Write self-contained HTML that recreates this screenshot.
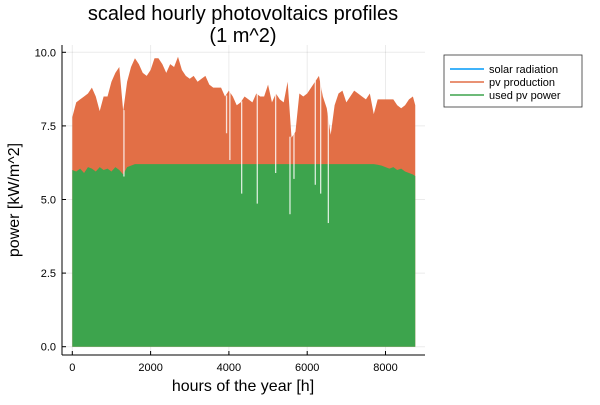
<!DOCTYPE html>
<html><head><meta charset="utf-8"><style>
body{margin:0;background:#fff;font-family:"Liberation Sans","DejaVu Sans",sans-serif}
svg text{font-family:"Liberation Sans","DejaVu Sans",sans-serif}
</style></head><body>
<svg id="chart" width="600" height="400">
<text x="243" y="20" font-size="20" text-anchor="middle">scaled hourly photovoltaics profiles</text>
<text x="243" y="42" font-size="20" text-anchor="middle">(1 m^2)</text>
<g id="grid"></g>
<g id="marks"></g>
<g id="axes"></g>
<text x="243" y="391" font-size="16" text-anchor="middle">hours of the year [h]</text>
<text transform="translate(19,200) rotate(-90)" font-size="16" text-anchor="middle">power [kW/m^2]</text>
<g>
<rect x="444" y="55" width="138" height="52" fill="#fff" stroke="#333" stroke-width="0.8"/>
<g><line x1="450" y1="69" x2="484" y2="69" stroke="#009af9" stroke-width="1.5"/><text x="489" y="73" font-size="11">solar radiation</text></g>
<g><line x1="450" y1="82" x2="484" y2="82" stroke="#e26f46" stroke-width="1.5"/><text x="489" y="86" font-size="11">pv production</text></g>
<g><line x1="450" y1="95" x2="484" y2="95" stroke="#3da44d" stroke-width="1.5"/><text x="489" y="99" font-size="11">used pv power</text></g>
</g>
</svg>
<script>
// pv production envelope, one value per 100 hours (last = hour 8760)
const pvTop = [7.8,8.3,8.4,8.5,8.6,8.8,8.5,8.0,8.5,8.5,9.0,9.3,9.5,8.0,9.0,9.5,9.8,9.6,9.3,9.2,
9.4,9.8,9.8,9.6,9.3,9.6,9.5,9.85,9.4,9.2,9.1,9.2,9.0,9.1,9.2,8.9,8.8,8.8,8.8,8.5,
8.7,8.5,8.2,8.3,8.5,8.4,8.3,8.6,8.5,8.5,8.9,8.3,8.6,8.4,8.3,9.0,7.1,7.3,8.6,8.5,
8.6,8.8,9.0,9.2,8.5,8.1,7.2,8.2,8.6,8.7,8.3,8.5,8.7,8.6,8.5,8.4,8.6,7.9,8.4,8.4,
8.4,8.4,8.4,8.2,8.1,8.2,8.4,8.5,8.2];
// used pv power envelope, one value per 100 hours
const usedTop = [6.0,5.95,6.05,5.9,6.1,6.05,5.95,6.1,6.0,6.05,5.95,6.1,6.0,5.85,6.1,6.15,6.2,6.2,6.2,6.2,
6.2,6.2,6.2,6.2,6.2,6.2,6.2,6.2,6.2,6.2,6.2,6.2,6.2,6.2,6.2,6.2,6.2,6.2,6.2,6.2,
6.2,6.2,6.2,6.2,6.2,6.2,6.2,6.2,6.2,6.2,6.2,6.2,6.2,6.2,6.2,6.2,6.2,6.2,6.2,6.2,
6.2,6.2,6.2,6.2,6.2,6.2,6.2,6.2,6.2,6.2,6.2,6.2,6.2,6.2,6.2,6.2,6.2,6.2,6.18,6.15,
6.1,6.05,6.1,6.0,6.05,5.95,5.9,5.85,5.8];
// cloudy hours: [hour, power reached]
const dipHours = [1319,3940,4025,4326,4725,5194,5560,5662,6207,6344,6540];
const dipValues = [5.78,7.25,6.34,5.2,4.86,5.9,4.5,5.7,5.5,5.2,4.2];
const xTicks = [0,2000,4000,6000,8000];
const yTicks = [0,2.5,5,7.5,10];
const yTickLabels = ["0.0","2.5","5.0","7.5","10.0"];

const NS="http://www.w3.org/2000/svg";
const X=h=>72.3+h*0.03915;
const Y=v=>346.7-v*29.44;
const hourOf=i=>Math.min(i*100,8760);
function mk(tag,attrs,parent){const e=document.createElementNS(NS,tag);for(const k in attrs)e.setAttribute(k,attrs[k]);parent.appendChild(e);return e;}
const grid=document.getElementById('grid'),marks=document.getElementById('marks'),axes=document.getElementById('axes');
xTicks.forEach(t=>{const l=mk('line',{x1:X(t),x2:X(t),y1:45,y2:355,stroke:'#000','stroke-opacity':0.08},grid);

});
yTicks.forEach(t=>{const l=mk('line',{x1:62,x2:425,y1:Y(t),y2:Y(t),stroke:'#000','stroke-opacity':0.08},grid);

});
function area(arr,color,name){
  let d='M'+X(0)+','+Y(0);
  arr.forEach((v,i)=>{d+=' L'+X(hourOf(i)).toFixed(2)+','+Y(v).toFixed(2);});
  d+=' L'+X(8760)+','+Y(0)+' Z';
  const p=mk('path',{d:d,fill:color},marks);
  
  
}
area(pvTop,'#e26f46','pv-production-area');
area(usedTop,'#3da44d','used-pv-power-area');
dipHours.forEach((h,i)=>{
  const top=pvTop[Math.round(h/100)];
  const l=mk('line',{x1:X(h),x2:X(h),y1:Y(top)-1,y2:Y(dipValues[i]),stroke:'#fff','stroke-width':1.3,'stroke-opacity':0.8},marks);
  
  
});
mk('line',{x1:62,x2:62,y1:45,y2:355,stroke:'#000','stroke-width':1},axes);
mk('line',{x1:62,x2:425,y1:355,y2:355,stroke:'#000','stroke-width':1},axes);
xTicks.forEach(t=>{mk('line',{x1:X(t),x2:X(t),y1:355,y2:351,stroke:'#000'},axes);
const tx=mk('text',{x:X(t),y:371,'font-size':11,'text-anchor':'middle'},axes);tx.textContent=t;

});
yTicks.forEach((t,i)=>{mk('line',{x1:62,x2:66,y1:Y(t),y2:Y(t),stroke:'#000'},axes);
const tx=mk('text',{x:56,y:Y(t)+4,'font-size':11,'text-anchor':'end'},axes);tx.textContent=yTickLabels[i];

});
</script>
</body></html>
